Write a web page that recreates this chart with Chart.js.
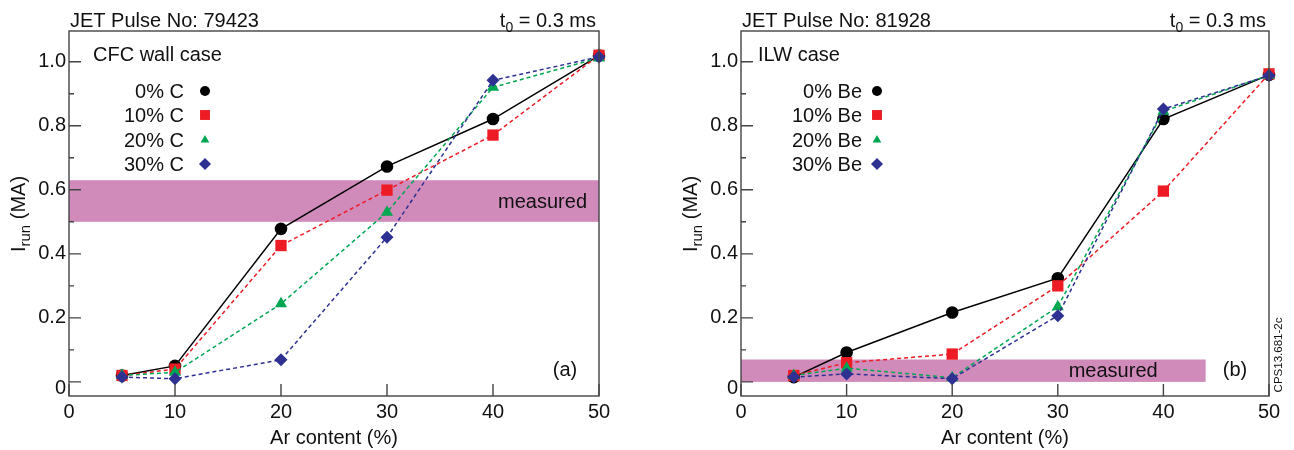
<!DOCTYPE html>
<html>
<head>
<meta charset="utf-8">
<script src="https://cdn.jsdelivr.net/npm/chart.js@4.4.0/dist/chart.umd.min.js"></script>
<style>
body { margin: 0; background: #fff; width: 1294px; height: 450px; overflow: hidden; position: relative; }
#wrapA { position: absolute; left: 0; top: 0; width: 640px; height: 450px; }
#wrapB { position: absolute; left: 672px; top: 0; width: 622px; height: 450px; }
</style>
</head>
<body>
<div id="wrapA"><canvas id="chartA"></canvas></div>
<div id="wrapB"><canvas id="chartB"></canvas></div>
<script>
const arContent = [5, 10, 20, 30, 40, 50]
const xTicks = [0, 10, 20, 30, 40, 50]
const yTicks = [0, 0.2, 0.4, 0.6, 0.8, 1.0]
const yMinorTicks = [0.1, 0.3, 0.5, 0.7, 0.9]

// (a) CFC wall, pulse 79423
const cfcLabels = ['0% C', '10% C', '20% C', '30% C']
const cfc0 = [0.02, 0.05, 0.478, 0.673, 0.821, 1.019]
const cfc10 = [0.02, 0.04, 0.426, 0.599, 0.771, 1.02]
const cfc20 = [0.02, 0.03, 0.244, 0.53, 0.92, 1.012]
const cfc30 = [0.015, 0.01, 0.069, 0.452, 0.942, 1.015]
const cfcBand = [0.50, 0.63]
const cfcBandX = [0, 50]

// (b) ILW, pulse 81928
const ilwLabels = ['0% Be', '10% Be', '20% Be', '30% Be']
const ilw0 = [0.015, 0.092, 0.217, 0.324, 0.821, 0.959]
const ilw10 = [0.02, 0.06, 0.087, 0.30, 0.596, 0.962]
const ilw20 = [0.02, 0.043, 0.013, 0.235, 0.845, 0.958]
const ilw30 = [0.015, 0.025, 0.01, 0.207, 0.852, 0.957]
const ilwBand = [0.0, 0.07]
const ilwBandX = [0, 44]

const colors = ['#000000', '#ed1c24', '#00a651', '#2e3192']
const shapes = ['circle', 'rect', 'triangle', 'rectRot']
const radii = [6.3, 8, 7, 6.5]
const legendRadii = [5, 7, 5, 6]
const FONT = "'Liberation Sans', Arial, sans-serif"

function makeSets(series, labels) {
    return series.map((vals, i) => ({
        label: labels[i],
        data: arContent.map((x, k) => ({ x: x, y: vals[k] })),
        borderColor: colors[i],
        backgroundColor: colors[i],
        borderWidth: 1.5,
        borderDash: i === 0 ? [] : [4, 3],
        pointStyle: shapes[i],
        pointRadius: radii[i],
        pointBorderWidth: 0,
        pointBackgroundColor: colors[i],
        order: 4 - i,
        clip: false,
        tension: 0
    }))
}

const decor = {
    id: 'decor',
    beforeDatasetsDraw(chart, args, o) {
        const ctx = chart.ctx
        const xs = chart.scales.x, ys = chart.scales.y
        const x1 = xs.getPixelForValue(o.bandX[0]), x2 = xs.getPixelForValue(o.bandX[1])
        const y1 = ys.getPixelForValue(o.band[1]), y2 = ys.getPixelForValue(o.band[0])
        ctx.save()
        ctx.fillStyle = '#d18bbb'
        ctx.fillRect(x1, y1, x2 - x1, y2 - y1)
        ctx.fillStyle = '#111'
        ctx.font = '20px ' + FONT
        ctx.textAlign = 'right'
        ctx.textBaseline = 'middle'
        ctx.fillText('measured', x2 - o.measuredGap, (y1 + y2) / 2 + 1)
        ctx.restore()
    },
    afterDraw(chart, args, o) {
        const ctx = chart.ctx
        const a = chart.chartArea
        const xs = chart.scales.x, ys = chart.scales.y
        ctx.save()
        // frame and inward ticks
        ctx.strokeStyle = '#444'
        ctx.lineWidth = 1.4
        ctx.strokeRect(a.left, a.top, a.right - a.left, a.bottom - a.top)
        ctx.beginPath()
        yTicks.forEach(v => {
            const p = ys.getPixelForValue(v)
            ctx.moveTo(a.left, p); ctx.lineTo(a.left + 12, p)
        })
        yMinorTicks.forEach(v => {
            const p = ys.getPixelForValue(v)
            ctx.moveTo(a.left, p); ctx.lineTo(a.left + 5, p)
        })
        xTicks.forEach(v => {
            const p = xs.getPixelForValue(v)
            ctx.moveTo(p, a.bottom); ctx.lineTo(p, a.bottom - 12)
        })
        ctx.stroke()

        ctx.fillStyle = '#111'
        ctx.textBaseline = 'alphabetic'
        // header
        ctx.font = '20px ' + FONT
        ctx.textAlign = 'left'
        ctx.fillText(o.pulse, a.left + 1, 27)
        // t0 = 0.3 ms, right aligned
        const rest = ' = 0.3 ms'
        const wT = ctx.measureText('t').width
        const wR = ctx.measureText(rest).width
        ctx.font = '14px ' + FONT
        const wS = ctx.measureText('0').width
        let x = a.right - 3 - wR - wS - wT
        ctx.font = '20px ' + FONT
        ctx.fillText('t', x, 27)
        ctx.font = '14px ' + FONT
        ctx.fillText('0', x + wT, 32)
        ctx.font = '20px ' + FONT
        ctx.fillText(rest, x + wT + wS, 27)

        // case label
        ctx.textBaseline = 'middle'
        ctx.fillText(o.caseLabel, a.left + o.caseDx, 55)

        // legend
        ctx.textAlign = 'right'
        const rows = [60, 84, 109, 133]
        o.labels.forEach((lab, i) => {
            const y = a.top + rows[i]
            ctx.fillStyle = '#111'
            ctx.fillText(lab, a.left + o.legendTextDx, y + 1)
            ctx.fillStyle = colors[i]
            Chart.helpers.drawPoint(ctx, { pointStyle: shapes[i], radius: legendRadii[i], rotation: 0, borderWidth: 0 }, a.left + 136, y)
        })

        // panel label
        ctx.fillStyle = '#111'
        ctx.textAlign = 'center'
        ctx.fillText(o.panel, a.right - 34, 370)

        // y title with subscript
        ctx.save()
        ctx.translate(a.left - 44, 214)
        ctx.rotate(-Math.PI / 2)
        ctx.textAlign = 'left'
        ctx.textBaseline = 'alphabetic'
        ctx.font = '20px ' + FONT
        const wI = ctx.measureText('I').width
        const wMA = ctx.measureText(' (MA)').width
        ctx.font = '15px ' + FONT
        const wRun = ctx.measureText('run').width
        let sx = -(wI + wRun + wMA) / 2
        ctx.font = '20px ' + FONT
        ctx.fillText('I', sx, 0)
        ctx.font = '15px ' + FONT
        ctx.fillText('run', sx + wI, 5)
        ctx.font = '20px ' + FONT
        ctx.fillText(' (MA)', sx + wI + wRun, 0)
        ctx.restore()

        if (o.note) {
            ctx.save()
            ctx.translate(a.right + 13, 355)
            ctx.rotate(-Math.PI / 2)
            ctx.font = '11.5px ' + FONT
            ctx.textAlign = 'center'
            ctx.textBaseline = 'alphabetic'
            ctx.fillText(o.note, 0, 0)
            ctx.restore()
        }
        ctx.restore()
    }
}

function makeChart(id, series, labels, opts, rightPad) {
    return new Chart(document.getElementById(id), {
        type: 'line',
        data: { datasets: makeSets(series, labels) },
        options: {
            responsive: true,
            maintainAspectRatio: false,
            animation: false,
            events: [],
            layout: { padding: { left: 0, top: 31, right: rightPad, bottom: 0 } },
            plugins: {
                legend: { display: false },
                tooltip: { enabled: false },
                decor: opts
            },
            scales: {
                x: {
                    type: 'linear',
                    min: 0,
                    max: 50,
                    afterBuildTicks: s => { s.ticks = xTicks.map(v => ({ value: v })) },
                    afterFit: s => { s.height = 54 },
                    grid: { display: false, drawTicks: false },
                    border: { display: false },
                    ticks: { padding: 4, color: '#111', font: { family: FONT, size: 20 } },
                    title: {
                        display: true,
                        text: 'Ar content (%)',
                        color: '#111',
                        padding: { top: 0, bottom: 0 },
                        font: { family: FONT, size: 20 }
                    }
                },
                y: {
                    type: 'linear',
                    min: -0.044,
                    max: 1.096,
                    afterBuildTicks: s => { s.ticks = yTicks.map(v => ({ value: v })) },
                    afterFit: s => { s.width = 69 },
                    grid: { display: false, drawTicks: false },
                    border: { display: false },
                    ticks: {
                        padding: 3,
                        color: '#111',
                        // the 0 label sits a little below its tick in the original
                        font: c => ({ family: FONT, size: 20, lineHeight: (c.tick && c.tick.value === 0) ? 0.65 : 1.2 }),
                        callback: v => v === 0 ? ['', '0'] : v.toFixed(1)
                    }
                }
            }
        },
        plugins: [decor]
    })
}

makeChart('chartA', [cfc0, cfc10, cfc20, cfc30], cfcLabels, {
    pulse: 'JET Pulse No: 79423',
    caseLabel: 'CFC wall case',
    caseDx: 24,
    labels: cfcLabels,
    legendTextDx: 115,
    band: cfcBand,
    bandX: cfcBandX,
    measuredGap: 12,
    panel: '(a)',
    note: ''
}, 41)

makeChart('chartB', [ilw0, ilw10, ilw20, ilw30], ilwLabels, {
    pulse: 'JET Pulse No: 81928',
    caseLabel: 'ILW case',
    caseDx: 17,
    labels: ilwLabels,
    legendTextDx: 121,
    band: ilwBand,
    bandX: ilwBandX,
    measuredGap: 48,
    panel: '(b)',
    note: 'CPS13.681-2c'
}, 25)
</script>
</body>
</html>
